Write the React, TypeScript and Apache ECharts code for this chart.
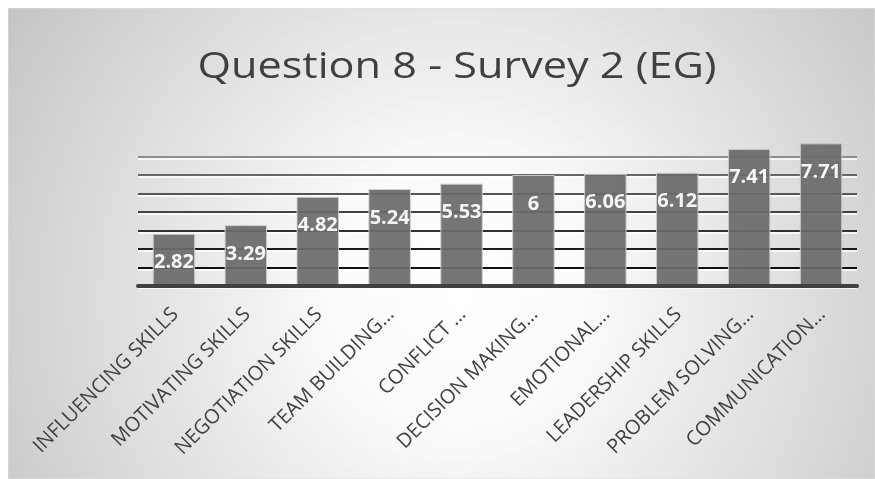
import React, { useEffect, useRef } from "react";
import * as echarts from "echarts";

const titleText = "Question 8 - Survey 2 (EG)";
const categories = [
  "INFLUENCING SKILLS",
  "MOTIVATING SKILLS",
  "NEGOTIATION SKILLS",
  "TEAM BUILDING…",
  "CONFLICT …",
  "DECISION MAKING…",
  "EMOTIONAL…",
  "LEADERSHIP SKILLS",
  "PROBLEM SOLVING…",
  "COMMUNICATION…",
];
const values = [2.82, 3.29, 4.82, 5.24, 5.53, 6, 6.06, 6.12, 7.41, 7.71];
const gridLineColors = ["#404040", "#111111", "#1c1c1c", "#303030", "#434343", "#555555", "#676767", "#8c8c8c"];

const W = 867;
const H = 471;

export default function App() {
  const ref = useRef<HTMLDivElement>(null);
  useEffect(() => {
    if (!ref.current) return;
    const chart = echarts.init(ref.current, null, { renderer: "svg" });
    const font = "'Open Sans', 'DejaVu Sans', sans-serif";
    chart.setOption({
      animation: false,
      graphic: [
        {
          type: "rect",
          z: -10,
          silent: true,
          shape: { x: 0, y: 0, width: W, height: H },
          style: {
            fill: new echarts.graphic.RadialGradient(450, 290, 540, [
              { offset: 0, color: "#ffffff" },
              { offset: 0.25, color: "#fafafa" },
              { offset: 1, color: "#c4c4c4" },
            ], true),
            stroke: "#dedede",
            lineWidth: 1,
          },
        },
        {
          type: "text",
          x: 449,
          y: 56,
          scaleX: 1.2,
          silent: true,
          style: {
            text: titleText,
            fill: "#404040",
            font: `normal 36px ${font}`,
            textAlign: "center",
            textVerticalAlign: "middle",
          },
        },
      ],
      grid: [
        { left: 130, right: 18, top: 148.5, bottom: 193, containLabel: false },
        { left: 130, right: 18, top: 150.5, bottom: 191, containLabel: false },
      ],
      xAxis: [
        {
          type: "category",
          gridIndex: 0,
          data: categories,
          axisLine: { show: true, lineStyle: { color: "#404040", width: 4 } },
          axisTick: { show: false },
          axisLabel: {
            rotate: 45,
            interval: 0,
            margin: 24,
            color: "#404040",
            fontSize: 20,
            fontFamily: font,
          },
          z: 5,
        },
        {
          type: "category",
          gridIndex: 1,
          data: categories,
          show: false,
        },
      ],
      yAxis: [
        {
          type: "value",
          gridIndex: 0,
          min: 0,
          max: 7,
          interval: 1,
          axisLabel: { show: false },
          axisLine: { show: false },
          axisTick: { show: false },
          z: 2,
          splitLine: {
            show: true,
            lineStyle: { color: gridLineColors, width: 2 },
          },
        },
        {
          type: "value",
          gridIndex: 1,
          min: 0,
          max: 7,
          interval: 1,
          axisLabel: { show: false },
          axisLine: { show: false },
          axisTick: { show: false },
          z: 1,
          splitLine: {
            show: true,
            lineStyle: { color: "#ffffff", width: 1.5 },
          },
        },
      ],
      series: [
        {
          type: "bar",
          xAxisIndex: 0,
          yAxisIndex: 0,
          data: values,
          clip: false,
          z: 3,
          barCategoryGap: "41%",
          itemStyle: {
            color: "#6a6a6a",
            opacity: 0.93,
            borderColor: "#cccccc",
            borderWidth: 1,
          },
          label: {
            show: true,
            position: "insideTop",
            distance: 17,
            color: "#ffffff",
            fontSize: 20,
            fontWeight: "bold",
            fontFamily: font,
            formatter: "{c}",
          },
        },
      ],
    });
    return () => chart.dispose();
  }, []);
  return (
    <div
      ref={ref}
      style={{ position: "fixed", left: 8, top: 8, width: W, height: H }}
    />
  );
}
